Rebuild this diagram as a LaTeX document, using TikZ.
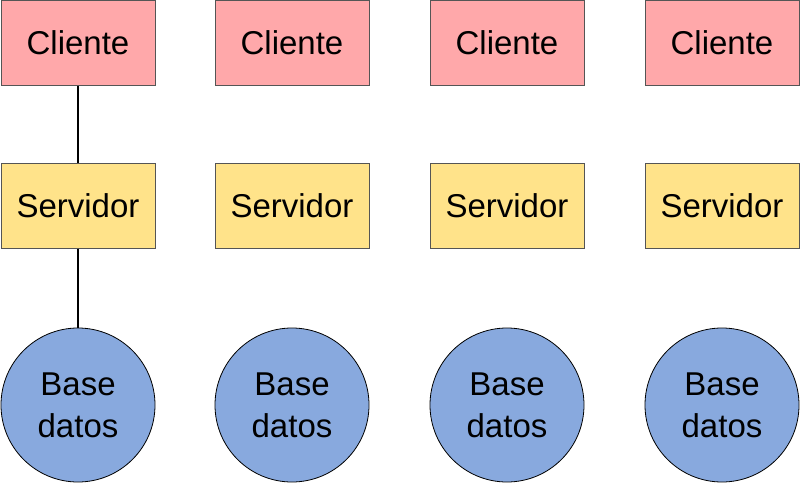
\documentclass[tikz,border=0pt]{standalone}
\usepackage{fontspec}
\setmainfont{Liberation Sans}
\definecolor{pinkc}{HTML}{FFA8AA}
\definecolor{yellowc}{HTML}{FFE38A}
\definecolor{bluec}{HTML}{88A9DE}
\definecolor{edgec}{HTML}{555555}
\begin{document}
\begin{tikzpicture}[x=1pt,y=-1pt,
  box/.style={draw=edgec,line width=1pt,minimum width=154pt,minimum height=85pt,inner sep=0pt,font=\fontsize{33}{42}\selectfont},
  cli/.style={box,fill=pinkc},
  srv/.style={box,fill=yellowc},
  db/.style={circle,draw=black,line width=0.8pt,fill=bluec,minimum size=154pt,inner sep=0pt,align=center,font=\fontsize{33}{42}\selectfont},
  conn/.style={draw=black,line width=1.3pt}]
\useasboundingbox (0,0) rectangle (800,484);
\foreach \i/\x in {1/78,2/292,3/507,4/722}{
  \node[cli] (c\i) at (\x,43.5) {\raisebox{2pt}{Cliente}};
  \node[srv] (s\i) at (\x,205.5) {\raisebox{-2pt}{Servidor}};
  \node[db] (d\i) at (\x,405) {Base\\datos};
}
\draw[conn] (c1) -- (s1);
\draw[conn] (s1) -- (d1);
\end{tikzpicture}
\end{document}
